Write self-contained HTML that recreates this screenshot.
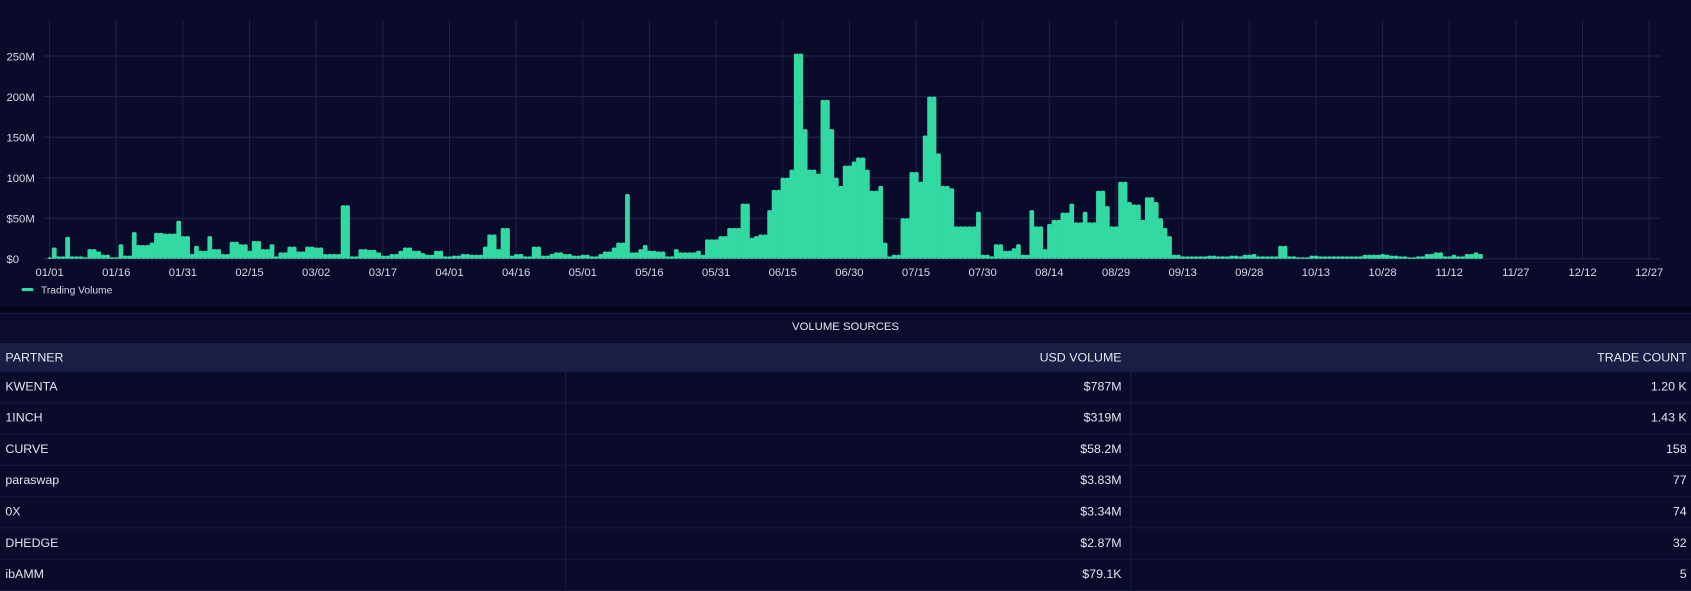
<!DOCTYPE html>
<html><head><meta charset="utf-8"><style>
html,body{margin:0;padding:0;width:1691px;height:589px;overflow:hidden;background:#0a0a2a}
#w{position:absolute;left:0;top:0;width:1568px;height:546px;transform:scale(1.07845);transform-origin:0 0;font-family:"Liberation Sans",sans-serif;background:#0a0a2a}
.t{position:absolute;left:0;width:1568px;color:#e6e8f0;font-size:11px}
.row{position:absolute;left:0;width:1568px;height:29px;border-bottom:1px solid #15183a;box-sizing:border-box}
.row div{position:absolute;top:0;line-height:28px;font-size:11.5px;color:#e4e6ee}
.c1{left:5px}.c2{right:528px}.c3{right:4px}
.d1{position:absolute;left:524px;top:318px;width:1px;height:228px;background:#181c40}
.d2{position:absolute;left:1048px;top:318px;width:1px;height:228px;background:#181c40}
</style></head><body><div id="w">
<svg id="s" width="1568" height="285" style="position:absolute;left:0;top:0" xmlns="http://www.w3.org/2000/svg"></svg>
<div style="position:absolute;left:0;top:284px;width:1568px;height:6px;background:#05051a"></div>
<div style="position:absolute;left:0;top:290px;width:1568px;height:28px;background:#0b0c2c;border-top:1px solid #15183a"></div>
<div class="t" style="top:297px;text-align:center;font-size:10.5px">VOLUME SOURCES</div>
<div class="row" style="top:318px;background:#1a1e45;height:27px"><div class="c1">PARTNER</div><div class="c2">USD VOLUME</div><div class="c3">TRADE COUNT</div></div>
<div class="row" style="top:345px"><div class="c1">KWENTA</div><div class="c2">$787M</div><div class="c3">1.20 K</div></div>
<div class="row" style="top:374px"><div class="c1">1INCH</div><div class="c2">$319M</div><div class="c3">1.43 K</div></div>
<div class="row" style="top:403px"><div class="c1">CURVE</div><div class="c2">$58.2M</div><div class="c3">158</div></div>
<div class="row" style="top:432px"><div class="c1">paraswap</div><div class="c2">$3.83M</div><div class="c3">77</div></div>
<div class="row" style="top:461px"><div class="c1">0X</div><div class="c2">$3.34M</div><div class="c3">74</div></div>
<div class="row" style="top:490px"><div class="c1">DHEDGE</div><div class="c2">$2.87M</div><div class="c3">32</div></div>
<div class="row" style="top:519px"><div class="c1">ibAMM</div><div class="c2">$79.1K</div><div class="c3">5</div></div>
<div class="d1"></div><div class="d2"></div>
</div>
<script>
var s=document.getElementById('s'),h='';
var X0=46,DX=4.12,Y0=240,K=0.752;
for(var i=0;i<6;i++){var y=Y0-i*50*K;h+='<line x1="40" x2="1540" y1="'+y+'" y2="'+y+'" stroke="#22254a" stroke-width="1"/>';
h+='<text x="6" y="'+(y+4)+'" fill="#d8dae6" font-size="10.5">'+['$0','$50M','100M','150M','200M','250M'][i]+'</text>';}
var L=['01/01','01/16','01/31','02/15','03/02','03/17','04/01','04/16','05/01','05/16','05/31','06/15','06/30','07/15','07/30','08/14','08/29','09/13','09/28','10/13','10/28','11/12','11/27','12/12','12/27'];
for(var i=0;i<L.length;i++){var x=X0+i*15*DX;h+='<line x1="'+x+'" x2="'+x+'" y1="18" y2="240" stroke="#1e2145"/>';
h+='<text x="'+x+'" y="256" fill="#d8dae6" font-size="10.5" text-anchor="middle">'+L[i]+'</text>';}
var P=[[44,2],[50,14],[56,3],[62,27],[68,3],[78,2],[85,12],[92,9],[97,5],[102,2],[110,18],[116,4],[123,33],[130,17],[140,20],[145,32],[155,31],[165,47],[171,28],[176,6],[181,16],[187,10],[193,28],[200,12],[206,6],[215,21],[222,18],[230,10],[237,22],[243,12],[250,18],[256,3],[262,8],[270,15],[278,9],[285,15],[292,14],[300,6],[318,66],[326,3],[333,12],[341,11],[350,8],[356,4],[362,6],[370,10],[377,14],[385,10],[392,7],[398,5],[405,10],[412,3],[420,4],[428,6],[436,5],[443,5],[450,15],[455,30],[461,12],[467,38],[473,4],[480,6],[486,3],[495,15],[502,4],[510,6],[517,8],[525,6],[532,4],[540,5],[548,3],[556,6],[563,9],[570,14],[575,20],[581,80],[586,8],[592,12],[598,17],[604,10],[612,9],[618,3],[626,12],[632,8],[640,8],[646,10],[652,5],[656,24],[662,24],[668,28],[675,38],[680,38],[690,68],[695,26],[700,28],[706,30],[712,60],[718,85],[724,100],[732,110],[738,253],[745,160],[750,110],[757,105],[763,196],[770,160],[775,100],[780,90],[785,115],[791,120],[797,125],[803,110],[809,84],[815,90],[819,20],[823,3],[830,5],[836,50],[845,107],[852,95],[856,152],[862,200],[868,130],[875,90],[882,87],[888,40],[896,40],[905,58],[912,5],[918,3],[923,18],[930,10],[938,13],[945,18],[950,5],[955,60],[962,40],[967,12],[973,43],[978,48],[986,57],[992,68],[998,45],[1005,58],[1012,45],[1019,84],[1025,65],[1031,40],[1039,95],[1048,70],[1052,67],[1058,48],[1064,76],[1070,70],[1075,50],[1080,38],[1086,28],[1090,5],[1096,3],[1110,3],[1120,4],[1130,3],[1140,4],[1150,3],[1155,5],[1162,6],[1168,3],[1182,3],[1188,16],[1195,3],[1205,2],[1215,4],[1225,3],[1235,3],[1245,3],[1258,3],[1265,5],[1272,5],[1280,6],[1286,5],[1292,4],[1298,3],[1305,2],[1315,3],[1322,6],[1330,8],[1338,3],[1346,5],[1352,3],[1360,6],[1368,8],[1374,6],[1378,3]];
for(var d=0;d<=322;d++){var x=X0+d*DX+2;var v=0;for(var j=0;j<P.length;j++){if(P[j][0]<=x)v=P[j][1];}
var hh=v*K;if(hh<1.5)hh=1.5;h+='<rect x="'+(X0+d*DX-2)+'" y="'+(Y0-hh)+'" width="4.4" height="'+hh+'" rx="1.5" fill="#33d9a2"/>';}
h+='<rect x="20" y="267" width="11" height="3" rx="1.5" fill="#33d9a2"/><text x="38" y="272" fill="#d8dae6" font-size="9.5">Trading Volume</text>';
s.innerHTML=h;
</script>
</body></html>
